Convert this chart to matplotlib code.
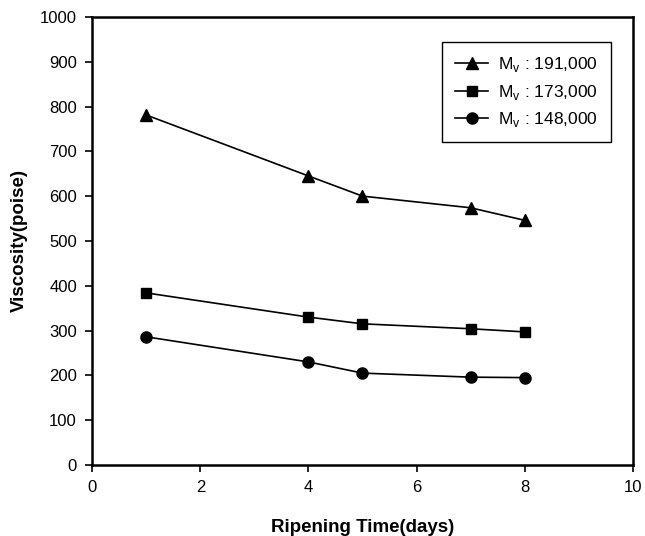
import matplotlib
matplotlib.use("Agg")
import matplotlib.pyplot as plt

plt.rcParams["font.family"] = ["Liberation Sans", "DejaVu Sans"]

days = [1, 4, 5, 7, 8]
visc_191 = [781, 645, 600, 574, 546]
visc_173 = [384, 330, 315, 304, 297]
visc_148 = [286, 230, 205, 196, 195]

labels = ["M$_\\mathregular{v}$ : 191,000",
          "M$_\\mathregular{v}$ : 173,000",
          "M$_\\mathregular{v}$ : 148,000"]

fig = plt.figure(figsize=(6.45, 5.36), dpi=100)
ax = fig.add_axes([0.143, 0.1325, 0.838, 0.836])

ax.plot(days, visc_191, "k-", marker="^", markersize=8.5, linewidth=1.2, label=labels[0])
ax.plot(days, visc_173, "k-", marker="s", markersize=7, linewidth=1.2, label=labels[1])
ax.plot(days, visc_148, "k-", marker="o", markersize=8, linewidth=1.2, label=labels[2])

ax.set_xlim(0, 10)
ax.set_ylim(0, 1000)
ax.set_xticks(range(0, 11, 2))
ax.set_yticks(range(0, 1001, 100))

for s in ax.spines.values():
    s.set_linewidth(1.8)
ax.tick_params(direction="out", length=5, width=1.2, labelsize=12, pad=6)

ax.set_xlabel("Ripening Time(days)", fontsize=13.5, fontweight="bold", labelpad=17)
ax.set_ylabel("Viscosity(poise)", fontsize=13.5, fontweight="bold", labelpad=9)

leg = ax.legend(loc="upper right", bbox_to_anchor=(0.959, 0.944), borderaxespad=0,
                fontsize=12.5, fancybox=False, edgecolor="black", framealpha=1,
                handlelength=1.9, handletextpad=0.55, borderpad=0.75, labelspacing=0.5)
leg.get_frame().set_linewidth(1.0)

fig.savefig("out.png", dpi=100)
